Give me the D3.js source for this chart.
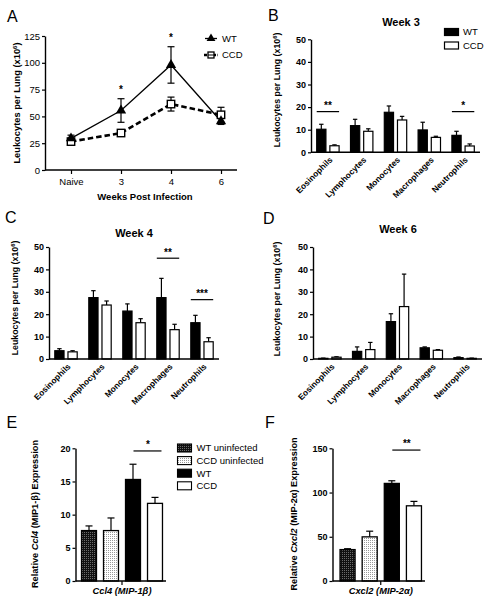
<!DOCTYPE html>
<html><head><meta charset="utf-8">
<script src="https://cdn.jsdelivr.net/npm/d3@7"></script>
<style>
body{margin:0;background:#fff;}
svg{display:block;}
</style></head>
<body><svg id="c" width="492" height="604"></svg>
<script>
// ---------- DATA ----------
const weeksA = ["Naive", "3", "4", "6"];
const wtA = [29.5, 55.5, 98, 45.5];
const wtAErr = [3, 11, 17, 3];
const ccdA = [26.5, 34.5, 61.5, 51.5];
const ccdAErr = [2, 2, 6.5, 7];
const sigA = ["", "*", "*", ""];
const ticksA = [0, 25, 50, 75, 100, 125];

const cellTypes = ["Eosinophils", "Lymphocytes", "Monocytes", "Macrophages", "Neutrophils"];
const wk3Wt = [10.2, 11.8, 17.7, 9.9, 7.5];
const wk3WtErr = [2.2, 2.8, 2.8, 3.4, 1.8];
const wk3Ccd = [2.9, 9.3, 14.3, 6.6, 2.8];
const wk3CcdErr = [0.4, 1.1, 1.6, 0.5, 0.9];
const wk3Sig = [{cat: "Eosinophils", label: "**", level: 18}, {cat: "Neutrophils", label: "*", level: 18}];

const wk4Wt = [3.7, 27.4, 21.4, 27.4, 16.2];
const wk4WtErr = [0.9, 3.1, 3.2, 8.6, 3.3];
const wk4Ccd = [3.2, 24.1, 16.2, 13.1, 7.7];
const wk4CcdErr = [0.5, 1.8, 1.8, 2.4, 1.8];
const wk4Sig = [{cat: "Macrophages", label: "**", level: 45}, {cat: "Neutrophils", label: "***", level: 26.5}];

const wk6Wt = [0.3, 3.4, 16.7, 5.0, 0.6];
const wk6WtErr = [0.1, 2.0, 3.5, 0.4, 0.3];
const wk6Ccd = [0.8, 4.2, 23.4, 3.9, 0.3];
const wk6CcdErr = [0.2, 3.2, 14.5, 0.3, 0.1];
const wk6Sig = [];
const ticksCell = [0, 10, 20, 30, 40, 50];

const exprGroups = ["WT uninfected", "CCD uninfected", "WT", "CCD"];
const ccl4 = [7.6, 7.6, 15.3, 11.7];
const ccl4Err = [0.7, 1.9, 2.3, 0.9];
const ccl4Sig = {label: "*", level: 19.6};
const ticksCcl4 = [0, 5, 10, 15, 20];
const cxcl2 = [35.5, 49.9, 110.3, 85];
const cxcl2Err = [1, 6.4, 3, 5];
const cxcl2Sig = {label: "**", level: 148};
const ticksCxcl2 = [0, 50, 100, 150];

// ---------- DRAWING ----------
const FONT = '"Liberation Sans", Arial, Helvetica, sans-serif';
const svg = d3.select("#c");
svg.append("rect").attr("width", 492).attr("height", 604).attr("fill", "#fff");

const defs = svg.append("defs");
const pd = defs.append("pattern").attr("id", "darkDots").attr("width", 2).attr("height", 2).attr("patternUnits", "userSpaceOnUse");
pd.append("rect").attr("width", 2).attr("height", 2).attr("fill", "#111");
pd.append("rect").attr("width", 1).attr("height", 1).attr("fill", "#6a6a6a");
const pl = defs.append("pattern").attr("id", "lightDots").attr("width", 2).attr("height", 2).attr("patternUnits", "userSpaceOnUse");
pl.append("rect").attr("width", 2).attr("height", 2).attr("fill", "#fff");
pl.append("rect").attr("width", 1).attr("height", 1).attr("fill", "#999");
const groupFill = {"WT uninfected": "url(#darkDots)", "CCD uninfected": "url(#lightDots)", "WT": "#000", "CCD": "#fff"};

function yAxis(x, scale, ticks, fs, bold) {
  const ax = d3.axisLeft(scale).tickValues(ticks).tickSize(3).tickSizeOuter(0).tickPadding(2);
  const g = svg.append("g").attr("transform", `translate(${x},0)`).call(ax);
  g.select(".domain").attr("stroke", "#000").attr("stroke-width", 1.4);
  g.selectAll(".tick line").attr("stroke", "#000").attr("stroke-width", 1.2);
  g.selectAll(".tick text").attr("font-family", FONT).attr("font-size", fs)
    .attr("font-weight", bold ? "bold" : "normal").attr("fill", "#000");
  return g;
}
function hLine(x0, x1, y, w) {
  svg.append("line").attr("x1", x0).attr("x2", x1).attr("y1", y).attr("y2", y)
    .attr("stroke", "#000").attr("stroke-width", w || 1.4);
}
function yTitle(cx, cy, parts, fs) {
  const t = svg.append("text").attr("transform", `translate(${cx},${cy}) rotate(-90)`)
    .attr("text-anchor", "middle").attr("dy", "0.35em").attr("font-family", FONT)
    .attr("font-size", fs).attr("font-weight", "bold").attr("fill", "#000");
  parts.forEach(p => {
    const ts = t.append("tspan").text(p.t);
    if (p.i) ts.attr("font-style", "italic");
    if (p.sup) ts.attr("baseline-shift", "super").attr("font-size", fs * 0.65);
  });
}
function txt(x, y, s, fs, opts) {
  opts = opts || {};
  return svg.append("text").attr("x", x).attr("y", y).text(s).attr("font-family", FONT)
    .attr("font-size", fs).attr("font-weight", opts.bold ? "bold" : "normal")
    .attr("font-style", opts.italic ? "italic" : "normal")
    .attr("text-anchor", opts.anchor || "start").attr("fill", "#000");
}
function letter(x, y, s) { txt(x, y, s, 16); }
const leuk = [{t: "Leukocytes per Lung (x10"}, {t: "6", sup: true}, {t: ")"}];

// ----- Panel A -----
(function () {
  const x = d3.scalePoint().domain(weeksA).range([71, 221]);
  const y = d3.scaleLinear().domain([0, 125]).range([170, 36]);
  letter(7, 21.5, "A");
  yAxis(45, y, ticksA, 9.5, false);
  hLine(45, 237, 170);
  const xa = svg.append("g").attr("transform", "translate(0,170)")
    .call(d3.axisBottom(x).tickSize(4).tickSizeOuter(0).tickPadding(4));
  xa.select(".domain").remove();
  xa.selectAll(".tick line").attr("stroke", "#000").attr("stroke-width", 1.2);
  xa.selectAll(".tick text").attr("font-family", FONT).attr("font-size", 9.5).attr("fill", "#000");
  yTitle(17, 103, leuk, 9.3);
  txt(145, 199.5, "Weeks Post Infection", 9.5, {bold: true, anchor: "middle"});

  function series(vals, errs, dashed) {
    const line = d3.line().x((d, i) => x(weeksA[i])).y(d => y(d));
    svg.append("path").datum(vals).attr("d", line).attr("fill", "none").attr("stroke", "#000")
      .attr("stroke-width", dashed ? 2.6 : 1.3).attr("stroke-dasharray", dashed ? "5.5,3" : null);
    vals.forEach((v, i) => {
      const cx = x(weeksA[i]);
      const t = y(v + errs[i]), b = y(v - errs[i]);
      svg.append("line").attr("x1", cx).attr("x2", cx).attr("y1", t).attr("y2", b).attr("stroke", "#000").attr("stroke-width", 1.2);
      [t, b].forEach(yy => svg.append("line").attr("x1", cx - 3.5).attr("x2", cx + 3.5).attr("y1", yy).attr("y2", yy).attr("stroke", "#000").attr("stroke-width", 1.2));
    });
  }
  series(ccdA, ccdAErr, true);
  series(wtA, wtAErr, false);
  ccdA.forEach((v, i) => {
    svg.append("rect").attr("x", x(weeksA[i]) - 3.7).attr("y", y(v) - 3.7).attr("width", 7.4).attr("height", 7.4)
      .attr("fill", "#fff").attr("stroke", "#000").attr("stroke-width", 1.4);
  });
  wtA.forEach((v, i) => {
    svg.append("path").attr("d", d3.symbol(d3.symbolTriangle, 46)())
      .attr("transform", `translate(${x(weeksA[i])},${y(v)})`).attr("fill", "#000");
  });
  sigA.forEach((s, i) => {
    if (s) txt(x(weeksA[i]), y(wtA[i] + wtAErr[i]) - 6, s, 10, {bold: true, anchor: "middle"});
  });
  // legend
  svg.append("line").attr("x1", 205).attr("x2", 217).attr("y1", 38.5).attr("y2", 38.5).attr("stroke", "#000").attr("stroke-width", 1.3);
  svg.append("path").attr("d", d3.symbol(d3.symbolTriangle, 34)()).attr("transform", "translate(211,38.5)").attr("fill", "#000");
  txt(222, 38.5, "WT", 9.5).attr("dy", "0.35em");
  svg.append("line").attr("x1", 204).attr("x2", 218).attr("y1", 55).attr("y2", 55).attr("stroke", "#000").attr("stroke-width", 2.4).attr("stroke-dasharray", "3,1.5");
  svg.append("rect").attr("x", 208).attr("y", 52).attr("width", 6).attr("height", 6).attr("fill", "#fff").attr("stroke", "#000").attr("stroke-width", 1.3);
  svg.append("line").attr("x1", 208).attr("x2", 214).attr("y1", 55).attr("y2", 55).attr("stroke", "#000").attr("stroke-width", 1);
  txt(222, 55, "CCD", 9.5).attr("dy", "0.35em");
})();

// ----- Panels B, C, D -----
function barPanel(cfg) {
  const x = d3.scaleBand().domain(cellTypes).range([cfg.x0, cfg.x1]);
  const inner = d3.scaleBand().domain(["WT", "CCD"]).range([-11.2, 11.2]).paddingInner(0.3);
  const y = d3.scaleLinear().domain([0, 50]).range([cfg.yb, cfg.yt]);
  letter(cfg.lx, cfg.ly, cfg.letter);
  txt(cfg.tx, cfg.ty, cfg.title, 11, {bold: true, anchor: "middle"});
  const series = [{k: "WT", v: cfg.wt, e: cfg.wtErr}, {k: "CCD", v: cfg.ccd, e: cfg.ccdErr}];
  series.forEach(s => {
    s.v.forEach((v, i) => {
      const bx = x(cellTypes[i]) + x.bandwidth() / 2 + inner(s.k);
      const bw = inner.bandwidth();
      const cx = bx + bw / 2;
      const et = y(v + s.e[i]);
      svg.append("line").attr("x1", cx).attr("x2", cx).attr("y1", y(v)).attr("y2", et).attr("stroke", "#000").attr("stroke-width", 1.2);
      svg.append("line").attr("x1", cx - 2.2).attr("x2", cx + 2.2).attr("y1", et).attr("y2", et).attr("stroke", "#000").attr("stroke-width", 1.2);
      svg.append("rect").attr("x", bx).attr("y", y(v)).attr("width", bw).attr("height", cfg.yb - y(v))
        .attr("fill", s.k === "WT" ? "#000" : "#fff").attr("stroke", "#000").attr("stroke-width", 1.2);
    });
  });
  yAxis(cfg.x0, y, ticksCell, 9, true);
  hLine(cfg.x0, cfg.x1, cfg.yb);
  cellTypes.forEach(c => {
    const cx = x(c) + x.bandwidth() / 2;
    svg.append("text").attr("transform", `translate(${cx + 3},${cfg.yb + 6}) rotate(-45)`)
      .attr("text-anchor", "end").attr("dy", "0.35em").text(c)
      .attr("font-family", FONT).attr("font-size", 8.4).attr("font-weight", "bold").attr("fill", "#000");
  });
  cfg.sig.forEach(s => {
    const c = x(s.cat) + x.bandwidth() / 2;
    const ly = y(s.level);
    hLine(c + inner("WT"), c + inner("CCD") + inner.bandwidth(), ly, 1.2);
    txt(c, ly - 2.5, s.label, 10, {bold: true, anchor: "middle"});
  });
  yTitle(cfg.ytx, cfg.yty, leuk, 8.8);
}
barPanel({letter: "B", lx: 268, ly: 21, title: "Week 3", tx: 401, ty: 26, x0: 311, x1: 480, yt: 39.3, yb: 152.3,
  wt: wk3Wt, wtErr: wk3WtErr, ccd: wk3Ccd, ccdErr: wk3CcdErr, sig: wk3Sig, ytx: 277, yty: 90});
barPanel({letter: "C", lx: 5, ly: 222.5, title: "Week 4", tx: 134, ty: 236.5, x0: 49, x1: 219, yt: 247, yb: 359,
  wt: wk4Wt, wtErr: wk4WtErr, ccd: wk4Ccd, ccdErr: wk4CcdErr, sig: wk4Sig, ytx: 15, yty: 298});
barPanel({letter: "D", lx: 263, ly: 224, title: "Week 6", tx: 398, ty: 233, x0: 313, x1: 482, yt: 247, yb: 359,
  wt: wk6Wt, wtErr: wk6WtErr, ccd: wk6Ccd, ccdErr: wk6CcdErr, sig: wk6Sig, ytx: 277, yty: 299});

// legend B
[["WT", 32], ["CCD", 45.5]].forEach(([k, yy]) => {
  svg.append("rect").attr("x", 444.5).attr("y", yy - 3.5).attr("width", 14).attr("height", 7)
    .attr("fill", k === "WT" ? "#000" : "#fff").attr("stroke", "#000").attr("stroke-width", 1.2);
  txt(463, yy, k, 9.5).attr("dy", "0.35em");
});

// ----- Panels E, F -----
function exprPanel(cfg) {
  const x = d3.scaleBand().domain(exprGroups).range([cfg.bx0, cfg.bx1]).paddingInner(0.32).paddingOuter(0.16);
  const y = d3.scaleLinear().domain([0, cfg.max]).range([581, 448.3]);
  letter(cfg.lx, 427.5, cfg.letter);
  cfg.vals.forEach((v, i) => {
    const g = exprGroups[i];
    const bx = x(g), bw = x.bandwidth(), cx = bx + bw / 2, et = y(v + cfg.errs[i]);
    svg.append("line").attr("x1", cx).attr("x2", cx).attr("y1", y(v)).attr("y2", et).attr("stroke", "#000").attr("stroke-width", 1.2);
    svg.append("line").attr("x1", cx - 3.5).attr("x2", cx + 3.5).attr("y1", et).attr("y2", et).attr("stroke", "#000").attr("stroke-width", 1.2);
    svg.append("rect").attr("x", bx).attr("y", y(v)).attr("width", bw).attr("height", 581 - y(v))
      .attr("fill", groupFill[g]).attr("stroke", "#000").attr("stroke-width", 1.3);
  });
  yAxis(cfg.ax, y, cfg.ticks, 9, true);
  hLine(cfg.ax, cfg.axEnd, 581);
  const mid = (cfg.bx0 + cfg.bx1) / 2;
  svg.append("line").attr("x1", mid).attr("x2", mid).attr("y1", 581).attr("y2", 585).attr("stroke", "#000").attr("stroke-width", 1.2);
  const xl = txt(mid, 594, "", 9.3, {bold: true, anchor: "middle"});
  xl.append("tspan").attr("font-style", "italic").text(cfg.gene);
  xl.append("tspan").attr("font-style", "italic").text(cfg.alias);
  const ly = y(cfg.sig.level);
  const x3 = x("WT"), x4 = x("CCD") + x.bandwidth();
  hLine(x3 + x.bandwidth() / 2 + 0.5, x4 - 1, ly, 1.2);
  txt((x3 + x4) / 2 + 4, ly - 3, cfg.sig.label, 10, {bold: true, anchor: "middle"});
  yTitle(cfg.ytx, 514, [{t: "Relative "}, {t: cfg.gene, i: true}, {t: cfg.ytAlias + " Expression"}], 9.2);
}
exprPanel({letter: "E", lx: 6.5, bx0: 78, bx1: 166, ax: 75.5, axEnd: 166, max: 20, ticks: ticksCcl4,
  vals: ccl4, errs: ccl4Err, sig: ccl4Sig, gene: "Ccl4", alias: " (MIP-1β)", ytAlias: " (MIP1-β)", ytx: 35});
exprPanel({letter: "F", lx: 265, bx0: 336.5, bx1: 425, ax: 332.5, axEnd: 425, max: 150, ticks: ticksCxcl2,
  vals: cxcl2, errs: cxcl2Err, sig: cxcl2Sig, gene: "Cxcl2", alias: " (MIP-2α)", ytAlias: " (MIP-2α)", ytx: 293.5});

// legend E
exprGroups.forEach((g, i) => {
  const yy = 448 + i * 12.6;
  svg.append("rect").attr("x", 177.5).attr("y", yy - 4).attr("width", 14).attr("height", 8)
    .attr("fill", groupFill[g]).attr("stroke", "#000").attr("stroke-width", 1.1);
  txt(196.5, yy, g, 9.5).attr("dy", "0.35em");
});
</script>
</body></html>
